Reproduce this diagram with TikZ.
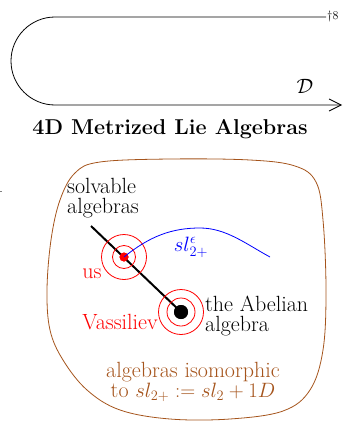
\documentclass[tikz,border=0pt]{standalone}
\usepackage{fontspec}
\usetikzlibrary{arrows.meta}
\definecolor{blobbrown}{RGB}{165,84,28}
\begin{document}
\begin{tikzpicture}[x=1pt,y=-1pt,
  lbl/.style={font=\fontsize{22}{20.5}\selectfont, inner sep=0pt},
  thinline/.style={line width=0.8pt},
  ring/.style={red, line width=0.8pt},
  dot/.style={circle, inner sep=0pt}]
\useasboundingbox (0,0) rectangle (344,423);
% top loop with arrow
\coordinate (topEnd) at (326,17);
\coordinate (topL) at (55,17);
\coordinate (botEnd) at (342,105);
\draw[thinline, -{Straight Barb[length=12pt,width=12pt]}]
  (topEnd) -- (topL) arc[start angle=90, end angle=270, radius=44pt] -- (botEnd);
\node[anchor=west, font=\fontsize{12}{12}\selectfont, inner sep=1pt] (fn) at (topEnd) {†8};
\node[lbl] (D) at (305,86) {$\mathcal{D}$};
\node[font=\bfseries\fontsize{21.5}{21.5}\selectfont, inner sep=0pt] (title) at (170,129) {4D Metrized Lie Algebras};
% small gray tick
\draw[gray, line width=0.8pt] (0,191) -- (2,191);
% blob
\draw[blobbrown, thinline] plot[smooth cycle, tension=0.6] coordinates {
 (47,290) (51,240) (60,200) (75,173) (100,162) (170,159) (250,160) (295,166)
 (316,182) (323,220) (326,290) (323,350) (310,390) (283,411) (230,419)
 (170,419) (120,410) (87,390) (63,360) (50,330)};
% points
\coordinate (solvEnd) at (91,226);
\node[dot, fill=red, minimum size=9pt] (us) at (124,257) {};
\node[dot, fill=black, minimum size=14pt] (abel) at (181,312) {};
\draw[line width=2pt] (solvEnd) -- (abel.center);
\node[dot, fill=red, minimum size=9pt] at (us) {};
\node[dot, fill=black, minimum size=14pt] at (abel) {};
\draw[ring] (us) circle[radius=11.5pt] (us) circle[radius=22.5pt];
\draw[ring] (abel) circle[radius=14pt] (abel) circle[radius=22.5pt];
% blue curve
\coordinate (blueEnd) at (270,257);
\draw[blue, thinline] (us.center) .. controls (150,236) and (172,228) .. (200,228)
  .. controls (226,228) and (246,244) .. (blueEnd);
\node[lbl, blue] (sleps) at (191,247) {$sl^{\epsilon}_{2+}$};
% labels
\node[lbl, anchor=west, align=left] (solv) at (67,198) {solvable\\algebras};
\node[lbl, anchor=west, align=left] (abellbl) at (205,316) {the Abelian\\algebra};
\node[lbl, red] (uslbl) at (92,274) {us};
\node[lbl, red, anchor=east] (vass) at (158,322) {Vassiliev};
\node[lbl, blobbrown, align=center] (iso) at (193,382) {algebras isomorphic\\to $sl_{2+} := sl_2 + 1D$};
\end{tikzpicture}
\end{document}
